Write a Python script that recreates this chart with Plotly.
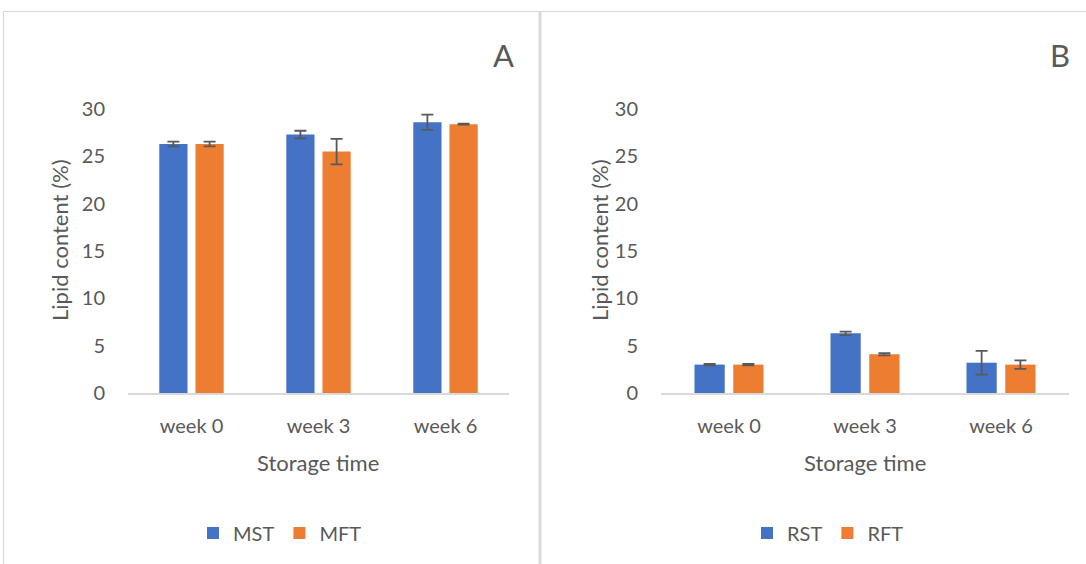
import plotly.graph_objects as go

categories = ["week 0", "week 3", "week 6"]

mst = [26.3, 27.3, 28.6]
mst_err = [0.25, 0.4, 0.8]
mft = [26.3, 25.5, 28.4]
mft_err = [0.25, 1.35, 0.05]

rst = [3.0, 6.3, 3.2]
rst_err = [0.08, 0.18, 1.25]
rft = [3.0, 4.1, 3.0]
rft_err = [0.08, 0.12, 0.45]

y_ticks = [0, 5, 10, 15, 20, 25, 30]

BLUE = "#4472C4"
ORANGE = "#ED7D31"
TEXT = "#595959"
GRID = "#D9D9D9"
FONT = "Lato, Carlito, Calibri, sans-serif"

W, H = 1086, 564

def px(x):
    return x / W

def py(y):
    return 1 - y / H

fig = go.Figure()

def bar(name, x, y, err, color, xa, ya, legend):
    return go.Bar(
        name=name, x=x, y=y, marker=dict(color=color, line=dict(width=0)),
        error_y=dict(type="data", array=err, visible=True, color=TEXT, thickness=1.8, width=6),
        xaxis=xa, yaxis=ya, legend=legend,
    )

fig.add_trace(bar("MST", categories, mst, mst_err, BLUE, "x", "y", "legend"))
fig.add_trace(bar("MFT", categories, mft, mft_err, ORANGE, "x", "y", "legend"))
fig.add_trace(bar("RST", categories, rst, rst_err, BLUE, "x2", "y2", "legend2"))
fig.add_trace(bar("RFT", categories, rft, rft_err, ORANGE, "x2", "y2", "legend2"))

ydom = [py(393), py(109)]

xaxis_common = dict(
    showline=True, linecolor=GRID, linewidth=1.8, showgrid=False, zeroline=False,
    ticks="", tickfont=dict(size=20, color=TEXT, family=FONT), ticklabelstandoff=14,
    fixedrange=True,
)
yaxis_common = dict(
    range=[0, 30], tickvals=y_ticks, showline=False, showgrid=False, zeroline=False,
    ticks="", tickfont=dict(size=20, color=TEXT, family=FONT), ticklabelstandoff=22,
    domain=ydom, fixedrange=True,
)

legend_font = dict(size=20, color=TEXT, family=FONT)

fig.update_layout(
    width=W, height=H,
    margin=dict(l=0, r=0, t=0, b=0, pad=0, autoexpand=False),
    paper_bgcolor="white", plot_bgcolor="white",
    font=dict(family=FONT, color=TEXT),
    barmode="group", bargap=0.43, bargroupgap=0.22,
    xaxis=dict(domain=[px(128), px(509)], anchor="y", **xaxis_common),
    yaxis=dict(anchor="x", **yaxis_common),
    xaxis2=dict(domain=[px(661), px(1069)], anchor="y2", **xaxis_common),
    yaxis2=dict(anchor="x2", **yaxis_common),
    legend=dict(orientation="h", x=px(280), y=py(533), xanchor="center", yanchor="middle",
                font=legend_font, itemwidth=30, bgcolor="rgba(0,0,0,0)"),
    legend2=dict(orientation="h", x=px(828), y=py(533), xanchor="center", yanchor="middle",
                 font=legend_font, itemwidth=30, bgcolor="rgba(0,0,0,0)"),
    showlegend=True,
)

annotations = [
    dict(text="A", x=px(503), y=py(55), font=dict(size=31, color=TEXT, family=FONT)),
    dict(text="B", x=px(1060), y=py(55), font=dict(size=31, color=TEXT, family=FONT)),
    dict(text="Lipid content (%)", x=px(60), y=py(240), textangle=-90, font=dict(size=22, color=TEXT, family=FONT)),
    dict(text="Lipid content (%)", x=px(600), y=py(240), textangle=-90, font=dict(size=22, color=TEXT, family=FONT)),
    dict(text="Storage time", x=px(318), y=py(462), font=dict(size=22, color=TEXT, family=FONT)),
    dict(text="Storage time", x=px(865), y=py(462), font=dict(size=22, color=TEXT, family=FONT)),
]
for a in annotations:
    a.update(xref="paper", yref="paper", xanchor="center", yanchor="middle", showarrow=False)
fig.update_layout(annotations=annotations)

shapes = [
    dict(type="line", x0=px(3.5), x1=1, y0=py(11.5), y1=py(11.5)),
    dict(type="line", x0=px(3.5), x1=px(3.5), y0=py(11.5), y1=0),
    dict(type="line", x0=px(540), x1=px(540), y0=py(11.5), y1=0, line=dict(width=3, color=GRID)),
]
for s in shapes:
    s.update(xref="paper", yref="paper")
    if "line" not in s:
        s["line"] = dict(width=1.2, color=GRID)
fig.update_layout(shapes=shapes)

fig.write_html(
    "out.html",
    config={"displayModeBar": False, "staticPlot": True},
    post_script="document.body.style.margin='0';document.body.style.overflow='hidden';",
)
